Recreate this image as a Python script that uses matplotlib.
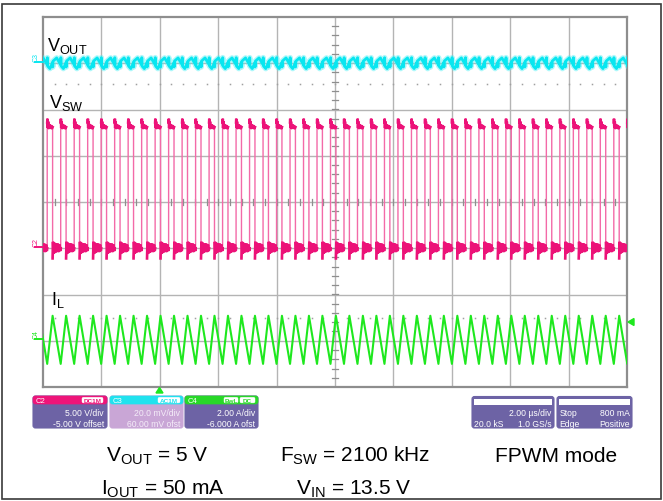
import numpy as np
import matplotlib
matplotlib.use('Agg')
import matplotlib.pyplot as plt
from matplotlib.patches import FancyBboxPatch, Rectangle, Polygon

plt.rcParams['font.family'] = ['Liberation Sans', 'DejaVu Sans']
plt.rcParams['mathtext.fontset'] = 'custom'
plt.rcParams['mathtext.rm'] = 'Liberation Sans'
plt.rcParams['mathtext.it'] = 'Liberation Sans:italic'
plt.rcParams['mathtext.bf'] = 'Liberation Sans:bold'

# ---------------- data ----------------
T_DIV_US = 2.0          # 2.00 us/div
T_START_US = -4.0       # trigger point 2 div from the left
N_HDIV, N_VDIV = 10, 8
T_SW_US = 0.462         # switching period
DUTY = 0.40

VSW_SCALE, VSW_POS = 5.0, -1.0        # V/div, ground position in div
VOUT_SCALE, VOUT_POS = 20.0, 3.0      # mV/div (AC), marker position in div
IL_SCALE, IL_POS = 2.0, -3.0          # A/div, zero position in div
TRIG_LEVEL_A = 0.8

# one switching period of each trace (fraction of period, value)
VSW_FRAC = [0.0, 0.0, 0.015, 0.04, 0.07, 0.11, 0.16, 0.22, 0.28, 0.34, 0.40,
            0.40, 0.43, 0.47, 0.52, 0.58, 0.64, 0.71, 0.78, 0.85, 0.92, 0.97, 1.0]
VSW_V = [0.0, 13.6, 14.0, 13.0, 13.7, 12.9, 13.4, 13.0, 13.3, 12.9, 13.1,
         -1.1, 0.7, -0.6, 0.6, -0.5, 0.5, -0.4, 0.5, -0.4, 0.4, -0.3, 0.0]
VSW_HIGH = slice(1, 11)    # on-time plateau points
VSW_LOW = slice(11, 23)    # off-time points
IL_FRAC = [0.0, 0.40, 1.0]
IL_A = [-1.00, 1.08, -1.00]
VOUT_FRAC = [0.0, 0.01, 0.03, 0.20, 0.40, 0.41, 0.43, 0.70, 1.0]
VOUT_MV = [-0.6, 2.4, -1.2, -2.3, 0.3, -1.6, 0.9, 2.3, -0.6]

# ---------------- figure ----------------
W, H = 663, 502
fig = plt.figure(figsize=(W / 100, H / 100), dpi=100)
fig.patch.set_facecolor('white')

GL, GR, GT, GB = 43, 627, 18, 388
ax = fig.add_axes([GL / W, 1 - GB / H, (GR - GL) / W, (GB - GT) / H])
ax.set_xlim(0, N_HDIV)
ax.set_ylim(-N_VDIV / 2, N_VDIV / 2)
ax.set_xticks([])
ax.set_yticks([])
ax.set_facecolor('white')
for s in ax.spines.values():
    s.set_color('#8e8e8e')
    s.set_linewidth(1.6)

gcol = '#b4b4b4'
for i in range(1, N_HDIV):
    ax.axvline(i, color=gcol, lw=1.0, zorder=1)
for j in range(-N_VDIV // 2 + 1, N_VDIV // 2):
    ax.axhline(j, color=gcol, lw=1.0, zorder=1)
# centre-line minor ticks
for xv in np.arange(0.2, N_HDIV, 0.2):
    ax.plot([xv, xv], [-0.055, 0.055], color='#8e8e8e', lw=0.9, zorder=1)
for yv in np.arange(-3.8, 4.0, 0.2):
    ax.plot([4.957, 5.043], [yv, yv], color='#8e8e8e', lw=0.9, zorder=1)
# dotted reference rows
dots_x = np.arange(0.2, N_HDIV, 0.2)
for yd in (2.55, -2.51):
    ax.plot(dots_x, np.full_like(dots_x, yd), ls='none', marker='s', ms=1.1,
            mec='none', mfc='#a0a0a0', zorder=1)


def build(frac, vals, t0, sep=False):
    frac = np.asarray(frac, dtype=float)
    vals = np.asarray(vals, dtype=float)
    if sep:
        frac = np.append(frac, np.nan)
        vals = np.append(vals, np.nan)
    k0 = int(np.floor((T_START_US - t0) / T_SW_US)) - 1
    k1 = int(np.ceil((T_START_US + N_HDIV * T_DIV_US - t0) / T_SW_US)) + 1
    ts, vs = [], []
    for k in range(k0, k1):
        ts.append(t0 + (k + frac) * T_SW_US)
        vs.append(vals)
    t = np.concatenate(ts)
    v = np.concatenate(vs)
    x = (t - T_START_US) / T_DIV_US
    return x, v


il_min, il_max = min(IL_A), max(IL_A)
t_rise0 = -(TRIG_LEVEL_A - il_min) / (il_max - il_min) * DUTY * T_SW_US

# switch node: thin light edges, heavier plateaus
x, v = build(VSW_FRAC, VSW_V, t_rise0)
ax.plot(x, VSW_POS + v / VSW_SCALE, color='#f36aa8', lw=1.0, zorder=3)
for seg in (VSW_HIGH, VSW_LOW):
    x, v = build(VSW_FRAC[seg], VSW_V[seg], t_rise0, sep=True)
    ax.plot(x, VSW_POS + v / VSW_SCALE, color='#ec1278', lw=1.9, zorder=3,
            solid_joinstyle='miter')

x, v = build(IL_FRAC, IL_A, t_rise0)
ax.plot(x, IL_POS + v / IL_SCALE, color='#1ee81e', lw=1.5, zorder=3)
x, v = build(VOUT_FRAC, VOUT_MV, t_rise0)
ax.plot(x, VOUT_POS + v / VOUT_SCALE, color='#4af0f6', lw=4.0, alpha=0.45, zorder=3)
ax.plot(x, VOUT_POS + v / VOUT_SCALE, color='#08e6f0', lw=2.0, zorder=4)

# ---------------- overlay in pixel coordinates ----------------
ov = fig.add_axes([0, 0, 1, 1])
ov.set_xlim(0, W)
ov.set_ylim(H, 0)
ov.axis('off')
ov.set_zorder(5)

ov.add_patch(Rectangle((2, 5), 658.5, 494.5, fill=False, ec='#3a3a3a', lw=1.2))

# trace labels
ov.text(47, 51, r'$\mathregular{V_{OUT}}$', fontsize=13, color='black', ha='left', va='baseline')
ov.text(49, 108, r'$\mathregular{V_{SW}}$', fontsize=13, color='black', ha='left', va='baseline')
ov.text(51, 305, r'$\mathregular{I_{L}}$', fontsize=13, color='black', ha='left', va='baseline')

# channel markers
def chan_mark(y, lab, col):
    ov.text(36.5, y - 1, lab, fontsize=5, color=col, rotation=90, ha='center', va='bottom')
    ov.plot([35, 43], [y, y], color=col, lw=1.4)

chan_mark(63, 'C3', '#08e6f0')
chan_mark(248, 'C2', '#f0147c')
chan_mark(340, 'C4', '#1ee81e')

# trigger markers
ov.add_patch(Polygon([[628, 323], [634, 319.5], [634, 326.5]], color='#1ee81e'))
ov.add_patch(Polygon([[159.5, 388.5], [156, 394], [163, 394]], color='#1ee81e'))

# channel info boxes
BODY = '#6d63a5'
BFS = 6.2
def chan_box(x0, x1, head_col, name, badges, line1, line2, body=BODY, txt='white'):
    ov.add_patch(FancyBboxPatch((x0, 397), x1 - x0, 32, boxstyle='round,pad=0,rounding_size=2.5',
                                fc=body, ec=body, lw=0.8))
    ov.add_patch(FancyBboxPatch((x0, 397), x1 - x0, 8, boxstyle='round,pad=0,rounding_size=2.5',
                                fc=head_col, ec=head_col, lw=0.5))
    ov.text(x0 + 3, 401.3, name, fontsize=5.5, color='white', ha='left', va='center')
    for (bx0, bx1, btxt) in badges:
        ov.add_patch(FancyBboxPatch((bx0, 398.3), bx1 - bx0, 5.6, boxstyle='round,pad=0,rounding_size=1.5',
                                    fc='white', ec='white', lw=0.3))
        ov.text((bx0 + bx1) / 2, 401.2, btxt, fontsize=4.6, color=head_col, ha='center',
                va='center', fontweight='bold')
    ov.text(x1 - 3, 414, line1, fontsize=BFS, color=txt, ha='right', va='center')
    ov.text(x1 - 3, 424.5, line2, fontsize=BFS, color=txt, ha='right', va='center')

chan_box(33, 107, '#ee1479', 'C2', [(82, 103, 'DC1M')], '5.00 V/div', '-5.00 V offset')
chan_box(110, 183, '#20e2ee', 'C3', [(158, 180, 'AC1M')], '20.0 mV/div', '60.00 mV ofst',
         body='#c9a6d6', txt='#f4ecf8')
chan_box(185, 258, '#28d828', 'C4', [(224, 238, 'BwL'), (240, 255, 'DC')], '2.00 A/div',
         '-6.000 A ofst')

def info_box(x0, x1, l1l, l1r, l2l, l2r):
    ov.add_patch(FancyBboxPatch((x0, 397.5), x1 - x0, 31.5, boxstyle='round,pad=0,rounding_size=2.5',
                                fc=BODY, ec=BODY, lw=0.8))
    ov.add_patch(Rectangle((x0 + 2, 399.5), x1 - x0 - 4, 6.5, fc='white', ec='none'))
    ov.text(x0 + 2.5, 414, l1l, fontsize=BFS, color='white', ha='left', va='center')
    ov.text(x1 - 2.5, 414, l1r, fontsize=BFS, color='white', ha='right', va='center')
    ov.text(x0 + 2.5, 424.5, l2l, fontsize=BFS, color='white', ha='left', va='center')
    ov.text(x1 - 2.5, 424.5, l2r, fontsize=BFS, color='white', ha='right', va='center')

info_box(472, 554, '', '2.00 µs/div', '20.0 kS', '1.0 GS/s')
info_box(557, 632, 'Stop', '800 mA', 'Edge', 'Positive')

# operating conditions
fs = 15
ov.text(157, 462, r'$\mathregular{V_{OUT}}$ = 5 V', fontsize=fs, ha='center', va='baseline')
ov.text(355, 462, r'$\mathregular{F_{SW}}$ = 2100 kHz', fontsize=fs, ha='center', va='baseline')
ov.text(556, 462, 'FPWM mode', fontsize=fs, ha='center', va='baseline')
ov.text(163, 495, r'$\mathregular{I_{OUT}}$ = 50 mA', fontsize=fs, ha='center', va='baseline')
ov.text(354, 495, r'$\mathregular{V_{IN}}$ = 13.5 V', fontsize=fs, ha='center', va='baseline')

fig.savefig('out.png', dpi=100)
